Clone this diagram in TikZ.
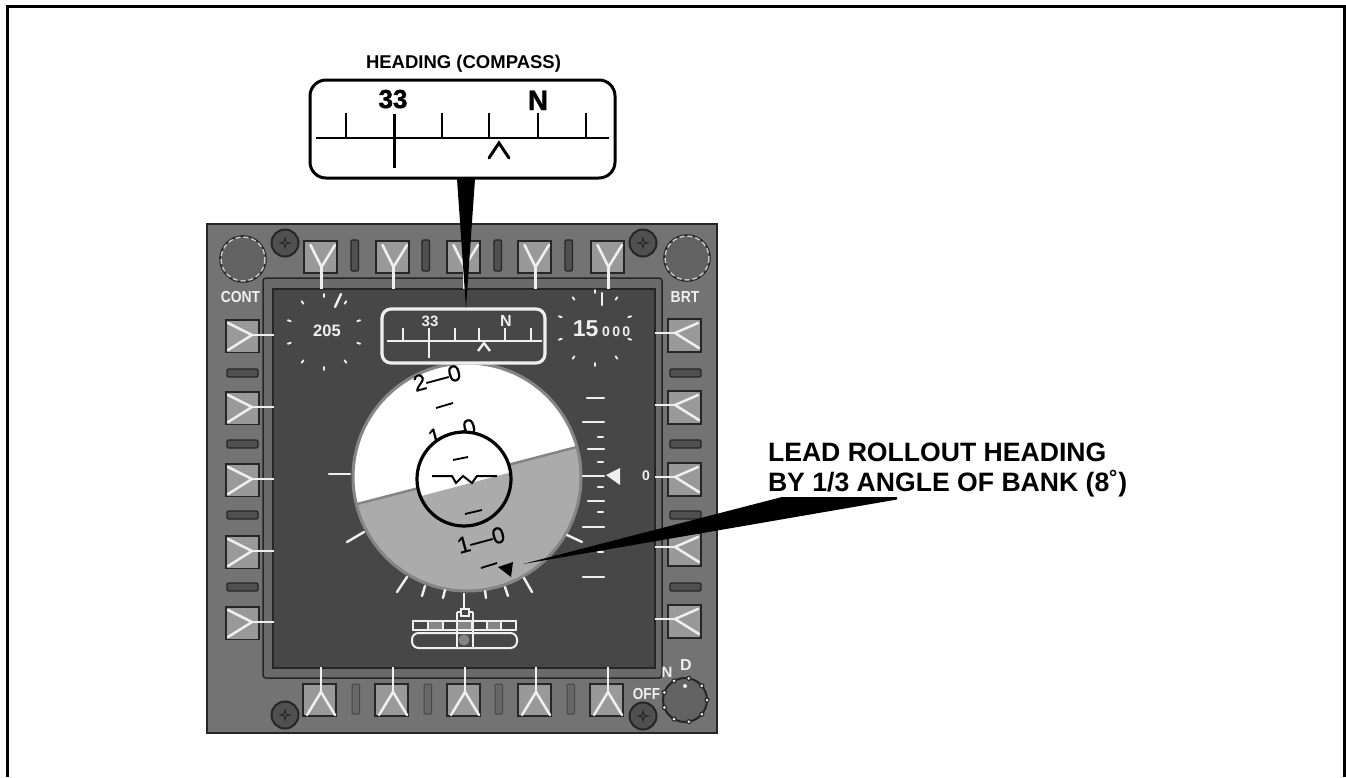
\documentclass[tikz,border=0pt]{standalone}
\usepackage{fontspec}
\setmainfont{Liberation Sans}
\definecolor{panelc}{HTML}{737373}
\definecolor{bezelc}{HTML}{6A6A6A}
\definecolor{screenc}{HTML}{474747}
\definecolor{btnc}{HTML}{999999}
\definecolor{edgec}{HTML}{262626}
\definecolor{groundc}{HTML}{ABABAB}
\definecolor{rimc}{HTML}{858585}
\definecolor{inkw}{HTML}{EFEFEF}
\newcommand{\fs}[1]{\fontsize{#1}{#1}\selectfont}
\tikzset{
  framed/.style={draw=black,line width=3pt},
  btn/.style={fill=btnc,draw=edgec,line width=1.6pt},
  yarm/.style={draw=inkw,line width=2.5pt,line cap=round},
  slotdark/.style={fill=panelc!70!black,draw=edgec,line width=1.3pt,rounded corners=1.2pt},
  slotpale/.style={fill=panelc!90!black,draw=screenc,line width=1pt,rounded corners=1.2pt},
  tickw/.style={draw=inkw,line width=2.4pt,line cap=round},
  tickb/.style={draw=black,line width=1.8pt},
  lbl/.style={inner sep=0pt,outer sep=0pt,font=\bfseries},
  pitch/.style={inner sep=0pt,text=black,rotate=15,font=\fs{23}\addfontfeatures{FakeBold=.6}},
  screw/.style={fill=panelc!70!black,draw=edgec,line width=2pt},
  knob/.style={fill=panelc!85!black,draw=edgec,line width=1.6pt},
}
\begin{document}
\begin{tikzpicture}[x=1pt,y=-1pt]
\useasboundingbox (0,0) rectangle (1346,777);
\fill[white] (0,0) rectangle (1346,777);
% outer frame, open at the foot
\draw[framed] (7,777) -- (7,6) -- (1344,6) -- (1344,777);

% panel
\fill[panelc,draw=edgec,line width=2pt] (207,224) rectangle (717,733);
\fill[bezelc,draw=edgec,line width=1.5pt,rounded corners=3pt] (263,278) rectangle (662,678);
\fill[screenc,draw=edgec,line width=1.5pt] (273,289) rectangle (655,668);

% top buttons
\foreach \x in {304,376,447,518,591}{
  \draw[btn] (\x,241) rectangle ++(33,32);
  \draw[yarm] (\x+6.5,245) -- (\x+17.5,267) -- (\x+31,245);
  \draw[yarm,line cap=butt] (\x+17.5,267) -- (\x+17.5,289);
}
% bottom buttons
\foreach \x in {303,375,447,518,590}{
  \draw[btn] (\x,684) rectangle ++(33,32);
  \draw[yarm] (\x+4,715) -- (\x+18,692) -- (\x+32,715);
  \draw[yarm,line cap=butt] (\x+18,692) -- (\x+18,667);
}
% left buttons
\foreach \y in {320,392,464,536,607}{
  \draw[btn] (226,\y) rectangle ++(33,32.5);
  \draw[yarm] (228,\y+3) -- (252,\y+15) -- (228,\y+30);
  \draw[yarm,line cap=butt] (252,\y+15) -- (274,\y+15);
}
% right buttons
\foreach \y in {319,391,463,533,605}{
  \draw[btn] (668,\y) rectangle ++(33,33);
  \draw[yarm] (698,\y+4) -- (675,\y+14) -- (699,\y+29);
  \draw[yarm,line cap=butt] (675,\y+14) -- (655,\y+14);
}
% slots
\foreach \x in {351,422,494,565}{\draw[slotdark] (\x,240) rectangle ++(7.5,31);}
\foreach \x in {352,424,495,567}{\draw[slotpale] (\x,684) rectangle ++(7.5,30);}
\foreach \y in {369,440,511,583}{
  \draw[slotdark] (227,\y) rectangle ++(31,8);
  \draw[slotdark] (670,\y) rectangle ++(31,8);
}

% knobs and screws
\foreach \cx/\cy in {243/259,687/258}{
  \draw[knob] (\cx,\cy) circle[radius=23];
  \draw[inkw!85!black,line width=1.4pt,dash pattern=on 5pt off 3pt] (\cx,\cy) circle[radius=22];
}
\draw[knob,line width=2pt] (685,700) circle[radius=22];
\foreach \a in {0,40,...,320}{
  \fill[edgec] (685,700) ++(\a:22) circle[radius=2.6];
  \fill[inkw] (685,700) ++(\a:22) circle[radius=1.5];
}
\fill[inkw] (685,686) circle[radius=2];
\foreach \cx/\cy in {285/243,643/243,285/715,643/716}{
  \draw[screw] (\cx,\cy) circle[radius=13.5];
  \draw[edgec,line width=.9pt] (\cx-5,\cy) -- (\cx-1,\cy-1) -- (\cx,\cy-5) -- (\cx+1,\cy-1)
     -- (\cx+5,\cy) -- (\cx+1,\cy+1) -- (\cx,\cy+5) -- (\cx-1,\cy+1) -- cycle;
}

% panel texts
\node[lbl,text=inkw,anchor=base] (cont) at (240.5,302) {\fs{16}\scalebox{.87}[1]{CONT}};
\node[lbl,text=inkw,anchor=base] (brt) at (685,302) {\fs{16}\scalebox{.87}[1]{BRT}};
\node[lbl,text=inkw,anchor=base] (off) at (646.5,699) {\fs{16}\scalebox{.85}[1]{OFF}};
\node[lbl,text=inkw,anchor=base] (ntxt) at (667,677) {\fs{15}N};
\node[lbl,text=inkw,anchor=base] (dtxt) at (686,670) {\fs{16}D};
\node[lbl,text=inkw,anchor=base] (zero) at (646,480) {\fs{14}0};
\node[lbl,text=inkw,anchor=base] (speed) at (327,336) {\fs{16.5}205};
\node[lbl,text=inkw,anchor=base] (alt) at (601.5,336) {\fs{23}15\,\fs{14}0\,0\,0};

% round dials
\foreach \a in {18,54,...,342}{
  \draw[inkw,line width=1.9pt,line cap=round] (324,332) ++(\a:35) -- ++(\a:3);
}
\draw[tickw] (335,307) -- (341,294);
\foreach \a in {18,54,...,342}{
  \draw[inkw,line width=1.9pt,line cap=round] (595,328) ++(\a:35) -- ++(\a:3);
}
\draw[tickw] (602,293) -- (602,305);

% attitude ball
\begin{scope}
  \clip (467,477) circle[radius=115];
  \fill[white] (340,350) rectangle (600,600);
  \fill[groundc] (340,508.5) -- (600,441) -- (600,600) -- (340,600) -- cycle;
  \draw[rimc,line width=2.5pt] (340,508.5) -- (600,441);
\end{scope}
\draw[rimc,line width=3pt] (467,477) circle[radius=114];

% pitch ladder
\node[pitch] (p20) at (437,378) {2—0};
\node[pitch] (p10a) at (452,432) {1—0};
\draw[tickb] (436,408) -- (453,403);
% inner ring hides what lies under it
\begin{scope}
  \clip (464,479) circle[radius=47];
  \fill[white] (410,425) rectangle (520,535);
  \fill[groundc] (410,499) -- (520,470) -- (520,535) -- (410,535) -- cycle;
\end{scope}
\draw[black,line width=3.2pt] (464,479) circle[radius=47];
\draw[black,line width=2pt,line join=miter] (432,476) -- (452,476) -- (456,483) -- (463,476) -- (472,483) -- (477,476) -- (497,476);
\draw[tickb] (453,460) -- (468,457);
\draw[tickb] (465,514) -- (482,510);
\node[pitch] (p10b) at (481,540) {1—0};
\draw[tickb] (481,568) -- (497,563);
\fill[black] (498,567) -- (513,562) -- (511,577) -- cycle;

% bank ticks
\foreach \xa/\ya/\xb/\yb in {329/474/350/474,347/542/364/532,397/592/407/577,422/596/425/586,443/598/445/590,486/598/485/591,508/596/505/587,532/592/524/578,567/535/582/542}{
  \draw[tickw] (\xa,\ya) -- (\xb,\yb);
}
% altitude scale
\foreach \y/\l in {398/587,422/583,449/588,476/583,501/588,527/583,577/583}{
  \draw[tickw] (\l,\y) -- (604,\y);
}
\foreach \y in {437,462,487,512,552}{
  \draw[tickw] (598,\y) -- (603,\y);
}
\fill[inkw] (606,475) -- (620,468) -- (620,485) -- cycle;

% aircraft symbol
\draw[tickw,line cap=butt] (464,593) -- (464,610);
\foreach \x/\c in {413/screenc,428/rimc,443/screenc,457/rimc,472/screenc,487/rimc,501/screenc}{
  \fill[\c] (\x,621) rectangle ++(15,9);
  \draw[inkw,line width=1.6pt] (\x,621) rectangle ++(15,9);
}
\draw[inkw,line width=2pt,rounded corners=6.5pt] (412,633) rectangle (517,648);
\draw[inkw,line width=1.6pt] (457,612) -- (457,649) (473,612) -- (473,649) (457,612) -- (473,612);
\fill[screenc,draw=inkw,line width=1.5pt] (461,609) rectangle (469,616);
\fill[rimc] (464,640) circle[radius=5.5];

% small compass
\fill[screenc,draw=inkw,line width=3.2pt,rounded corners=9pt] (382,309) rectangle (545,363);
\draw[inkw,line width=2.4pt] (387,341) -- (542,341);
\foreach \x in {403,455,479,505,531}{
  \draw[inkw,line width=1.6pt] (\x,328) -- (\x,341);
}
\draw[inkw,line width=2.4pt] (429,328) -- (429,358);
\draw[inkw,line width=2.4pt] (478,351) -- (484,343) -- (490,351);
\node[lbl,text=inkw,anchor=base,font=\bfseries\fs{15}] (s33) at (430,326) {33};
\node[lbl,text=inkw,anchor=base,font=\bfseries\fs{16}] (sn) at (506,326) {N};

% large compass
\fill[white,draw=black,line width=3pt,rounded corners=16pt] (310,80) rectangle (615,178);
\draw[black,line width=2pt] (316,138) -- (609,138);
\foreach \x in {346,442,489,586}{
  \draw[black,line width=1.5pt] (\x,113) -- (\x,138);
}
\draw[black,line width=2.2pt] (538,113) -- (538,138);
\draw[black,line width=3pt] (394,114) -- (394,168);
\draw[black,line width=3pt,line cap=round] (489,158) -- (499,143) -- (509,158);
\node[lbl,anchor=base,font=\bfseries\fs{26}\addfontfeatures{FakeBold=1.5}] (b33) at (393,108) {33};
\node[lbl,anchor=base,font=\bfseries\fs{28}\addfontfeatures{FakeBold=1.5}] (bn) at (538,110) {N};

% leader wedges
\fill[black] (457,179) -- (475,179) -- (466,308) -- cycle;
\fill[black] (523,564) -- (782,497) -- (897,497) -- (897,499.5) -- cycle;

% captions
\node[lbl,anchor=base,font=\bfseries\fs{18.5}] (head) at (463.5,68) {HEADING (COMPASS)};
\node[lbl,anchor=base west,font=\bfseries\fs{26.6}] (lead1) at (768,461) {LEAD ROLLOUT HEADING};
\node[lbl,anchor=base west,font=\bfseries\fs{26.6}] (lead2) at (768,491) {BY 1/3 ANGLE OF BANK (8˚)};
\end{tikzpicture}
\end{document}
